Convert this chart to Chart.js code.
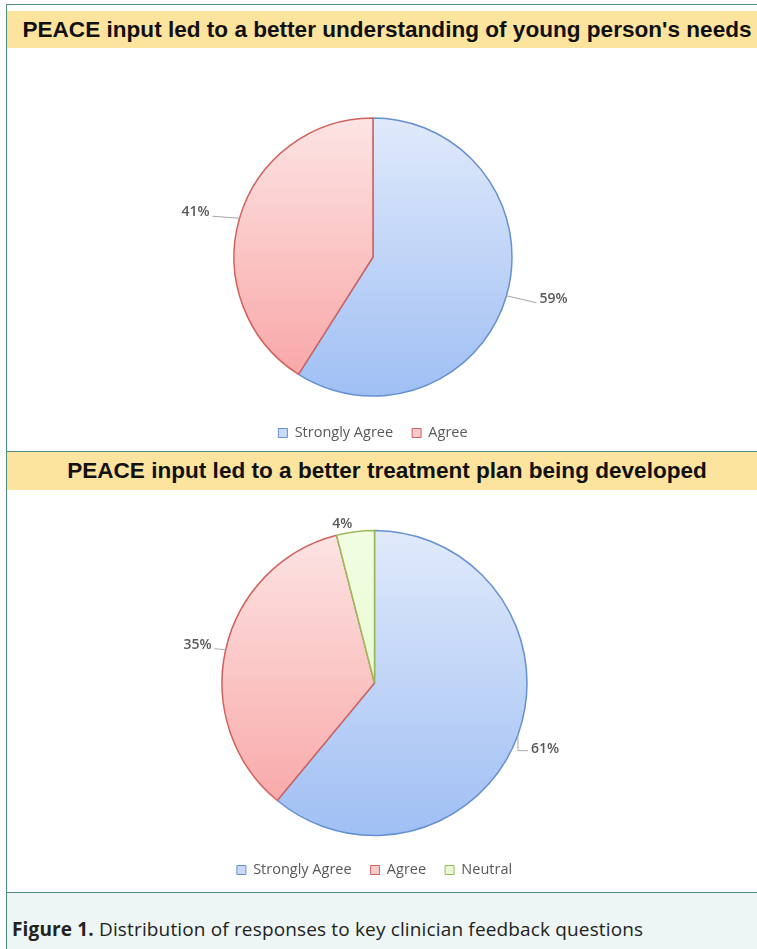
<!DOCTYPE html>
<html>
<head>
<meta charset="utf-8">
<script src="https://cdn.jsdelivr.net/npm/chart.js@4.4.1/dist/chart.umd.min.js"></script>
<style>
  html, body { margin: 0; padding: 0; background: #fff; }
  body { width: 757px; height: 949px; position: relative; overflow: hidden; }
  .frame {
    position: absolute; left: 6px; top: 4px; width: 760px; height: 960px;
    border-left: 1px solid #4f8f80; border-top: 1px solid #4f8f80;
  }
  .bar {
    position: absolute; left: 7px; width: 750px; background: #fde49e;
    font-family: "Liberation Sans", Arial, sans-serif; font-weight: bold;
    font-size: 21.5px; color: #111; overflow: hidden; white-space: nowrap;
  }
  .bar span { position: absolute; left: 380px; top: 50%; transform: translate(-50%, -50%) scaleX(1.05); }
  .box { position: absolute; left: 7px; width: 750px; }
  .rule { position: absolute; left: 6px; width: 751px; height: 1px; background: #4f8f80; }
  .caption {
    position: absolute; left: 7px; top: 893px; width: 750px; height: 56px;
    background: #eef6f5; font-family: "Open Sans", sans-serif; font-size: 19px;
    color: #222;
  }
  .caption p { margin: 0; position: absolute; left: 5px; top: 23px; letter-spacing: 0.15px; }
</style>
</head>
<body>
<div class="frame"></div>
<div class="bar" style="top:11px;height:37px"><span>PEACE input led to a better understanding of young person's needs</span></div>
<div class="box" style="top:48px;height:403px"><canvas id="needsChart"></canvas></div>
<div class="rule" style="top:451px"></div>
<div class="bar" style="top:452px;height:38px"><span>PEACE input led to a better treatment plan being developed</span></div>
<div class="box" style="top:490px;height:402px"><canvas id="planChart"></canvas></div>
<div class="rule" style="top:892px"></div>
<div class="caption"><p><b>Figure 1.</b> Distribution of responses to key clinician feedback questions</p></div>

<script>
// survey answers, percent of clinicians
const needsLabels = ['Strongly Agree', 'Agree'];
const needsValues = [59, 41];

const planLabels = ['Strongly Agree', 'Agree', 'Neutral'];
const planValues = [61, 35, 4];

// per category: gradient top, gradient bottom, outline, legend swatch
const palette = {
    'Strongly Agree': { top: '#e0eafb', bottom: '#a0bff4', line: '#6590d2', swatch: '#c9dbf8' },
    'Agree':          { top: '#fde4e4', bottom: '#f8a3a2', line: '#d0625f', swatch: '#f9caca' },
    'Neutral':        { top: '#f2fde2', bottom: '#e2f7c6', line: '#9bbb59', swatch: '#eafad4' }
};

// leader label positions, offsets from the slice's outer mid point
const needsPlacement = [
    { dx: 33, dy: 3, align: 'left', leader: 'line' },
    { dx: -30, dy: -6, align: 'right', leader: 'line' }
];
const planPlacement = [
    { dx: 13, dy: 14, align: 'left', leader: 'elbow' },
    { dx: -14, dy: -5, align: 'right', leader: 'line' },
    { dx: -13, dy: -8, align: 'center', leader: 'none' }
];

const sliceLabels = {
    id: 'sliceLabels',
    afterDatasetsDraw(chart, args, opts) {
        const ctx = chart.ctx;
        const meta = chart.getDatasetMeta(0);
        const values = chart.data.datasets[0].data;
        ctx.save();
        ctx.font = '600 14px "Open Sans", sans-serif';
        ctx.fillStyle = '#595959';
        ctx.strokeStyle = '#a6a6a6';
        ctx.lineWidth = 1;
        ctx.textBaseline = 'middle';
        meta.data.forEach((arc, i) => {
            const p = arc.getProps(['x', 'y', 'startAngle', 'endAngle', 'outerRadius'], true);
            const mid = (p.startAngle + p.endAngle) / 2;
            const ax = p.x + Math.cos(mid) * p.outerRadius;
            const ay = p.y + Math.sin(mid) * p.outerRadius;
            const place = opts.placement[i];
            const tx = ax + place.dx;
            const ty = ay + place.dy;
            const side = place.align === 'right' ? 3 : -3;
            ctx.beginPath();
            if (place.leader === 'line') {
                ctx.moveTo(ax, ay);
                ctx.lineTo(tx + side, ty + 4);
            } else if (place.leader === 'elbow') {
                ctx.moveTo(ax, ay);
                ctx.lineTo(ax, ty + 2);
                ctx.lineTo(tx + side, ty + 2);
            }
            ctx.stroke();
            ctx.textAlign = place.align;
            ctx.fillText(values[i] + '%', tx, ty);
        });
        ctx.restore();
    }
};

function sliceFill(labels) {
    return (context) => {
        const c = palette[labels[context.dataIndex]];
        const chart = context.chart;
        const area = chart.chartArea;
        if (!area) return c.swatch;
        const r = chart.data.datasets[0].radius;
        const cy = (area.top + area.bottom) / 2;
        const g = chart.ctx.createLinearGradient(0, cy - r, 0, cy + r);
        g.addColorStop(0, c.top);
        g.addColorStop(1, c.bottom);
        return g;
    };
}

function makePie(id, labels, values, radius, padding, placement) {
    return new Chart(document.getElementById(id), {
        type: 'pie',
        data: {
            labels: labels,
            datasets: [{
                data: values,
                radius: radius,
                backgroundColor: sliceFill(labels),
                borderColor: labels.map(l => palette[l].line),
                borderWidth: 1.5
            }]
        },
        options: {
            responsive: true,
            maintainAspectRatio: false,
            animation: false,
            events: [],
            layout: { padding: padding },
            plugins: {
                tooltip: { enabled: false },
                sliceLabels: { placement: placement },
                legend: {
                    position: 'bottom',
                    labels: {
                        boxWidth: 9,
                        boxHeight: 9,
                        padding: 19,
                        color: '#595959',
                        font: { family: '"Open Sans", sans-serif', size: 14.5 },
                        generateLabels: (chart) => labels.map((l, i) => ({
                            text: l,
                            fillStyle: palette[l].swatch,
                            strokeStyle: palette[l].line,
                            lineWidth: 1,
                            fontColor: '#595959',
                            index: i
                        }))
                    }
                }
            }
        },
        plugins: [sliceLabels]
    });
}

makePie('needsChart', needsLabels, needsValues, 139,
    { left: 0, right: 18, top: 59.25, bottom: 0.75 }, needsPlacement);
makePie('planChart', planLabels, planValues, 152.5,
    { left: 0, right: 15, top: 32.25, bottom: 4.75 }, planPlacement);
</script>
</body>
</html>
